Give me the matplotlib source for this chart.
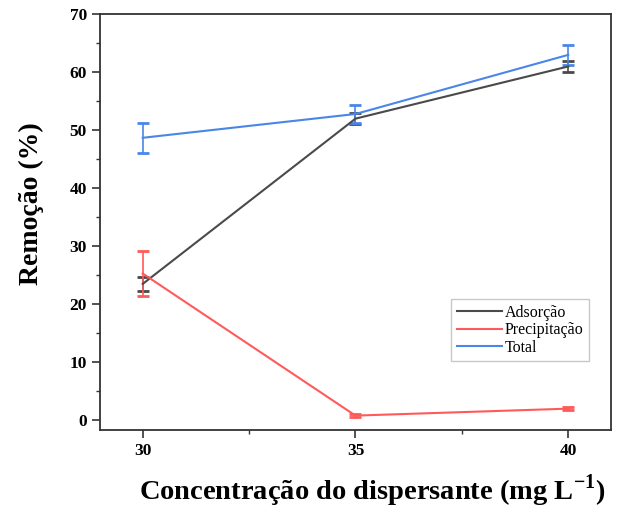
import matplotlib
matplotlib.use("Agg")
import matplotlib.pyplot as plt
from matplotlib.ticker import MultipleLocator
from matplotlib.lines import Line2D

plt.rcParams['font.family'] = ['Liberation Serif', 'DejaVu Serif']
plt.rcParams['mathtext.fontset'] = 'custom'
plt.rcParams['mathtext.rm'] = 'Liberation Serif:bold'
plt.rcParams['mathtext.bf'] = 'Liberation Serif:bold'

conc = [30, 35, 40]
adsorcao = [23.5, 52.0, 61.0]
adsorcao_err = [1.2, 1.0, 1.0]
precipitacao = [25.3, 0.8, 2.0]
precipitacao_err = [3.8, 0.2, 0.3]
total = [48.7, 52.8, 63.0]
total_err = [2.6, 1.5, 1.7]
labels = ['Adsorção', 'Precipitação', 'Total']
colors = ['#4a4a4a', '#ff5a5a', '#4a86e8']

fig = plt.figure(figsize=(6.22, 5.09), dpi=100)
ax = fig.add_axes([0.161, 0.155, 0.821, 0.817])

kw = dict(capsize=4.5, elinewidth=1.2, capthick=2, linewidth=1.5)
for y, e, c in zip([adsorcao, precipitacao, total],
                   [adsorcao_err, precipitacao_err, total_err], colors):
    ax.errorbar(conc, y, yerr=e, color=c, **kw)

ax.set_xlim(29, 41)
ax.set_ylim(-1.7, 70)
ax.set_xticks([30, 35, 40])
ax.set_yticks(range(0, 71, 10))
ax.xaxis.set_minor_locator(MultipleLocator(2.5))
ax.yaxis.set_minor_locator(MultipleLocator(5))
ax.tick_params(which='both', direction='out', color='#333333')
ax.tick_params(which='major', length=6, width=1.2, labelsize=12.5)
ax.tick_params(which='minor', length=3, width=1)
for lab in ax.get_xticklabels() + ax.get_yticklabels():
    lab.set_fontweight('bold')
for s in ax.spines.values():
    s.set_linewidth(1.3)
    s.set_color('#333333')

fig.text(0.05, 0.60, 'Remoção (%)', fontsize=20, fontweight='bold',
         rotation=90, ha='center', va='center')
fig.text(0.598, 0.036, 'Concentração do dispersante (mg L$^{-1}$)', fontsize=20.5,
         fontweight='bold', ha='center', va='center')

handles = [Line2D([], [], color=c, linewidth=1.5) for c in colors]
leg = ax.legend(handles, labels, loc='lower left', bbox_to_anchor=(0.688, 0.165),
                fontsize=11.5, frameon=True, fancybox=False, edgecolor='#bbbbbb',
                handlelength=2.8, borderpad=0.35, labelspacing=0.1,
                handletextpad=0.2, borderaxespad=0)

fig.savefig('out.png', dpi=100)
